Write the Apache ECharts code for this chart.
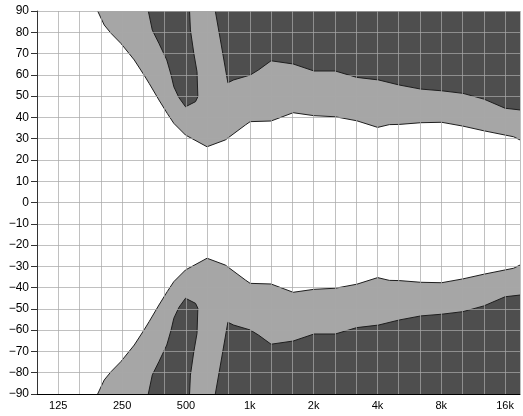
<!DOCTYPE html>
<html>
<head>
<meta charset="utf-8">
<script src="https://cdn.jsdelivr.net/npm/echarts@6/dist/echarts.min.js"></script>
<style>html,body{margin:0;padding:0;background:#fff;}#c{width:523px;height:416px;}</style>
</head>
<body>
<div id="c"></div>
<script>
// x positions are third-octave band indices (0 = 100 Hz, 1 = 125 Hz, ...)
const tickBands = [1, 4, 7, 10, 13, 16, 19, 22];
const tickLabels = ['125', '250', '500', '1k', '2k', '4k', '8k', '16k'];

// upper half boundaries (lower half is the mirror image)
const lightEdge = [[2.85,90],[3.16,83.4],[3.48,79.5],[3.94,74.8],[4.57,67.0],[5.03,59.9],[5.27,56.0],[5.73,48.2],[6.12,41.9],[6.43,37.2],[6.98,31.7],[7.99,26.2],[8.85,29.4],[9.79,36.4],[10.02,38.0],[11.0,38.3],[12.04,42.2],[13.02,40.8],[14.02,40.3],[15.03,38.4],[16.01,35.3],[16.56,36.6],[17.03,36.7],[18.04,37.5],[19.02,37.7],[20.02,35.9],[21.0,33.7],[22.0,31.7],[22.4,30.9],[22.7,29.4]];
const blobEdge = [[5.23,90],[5.42,81.0],[5.73,74.8],[6.1,67.0],[6.3,60.0],[6.43,54.4],[6.67,49.3],[6.98,45.0],[7.45,47.4],[7.56,49.7],[7.52,61.5],[7.37,70.1],[7.21,81.1],[7.17,90]];
const darkEdge = [[8.38,90],[8.62,76.4],[8.97,56.3],[9.24,57.6],[10.02,59.9],[10.41,62.3],[11.0,66.6],[12.04,65.1],[13.02,61.8],[14.02,61.8],[15.03,58.8],[16.05,57.6],[17.03,55.2],[18.04,53.3],[19.02,52.5],[20.02,51.3],[21.0,48.6],[22.0,44.3],[22.7,43.5]];

const LIGHT = '#a6a6a6', DARK = '#4e4e4e', EDGE = '#1e1e1e';
const mirror = arr => arr.map(p => [p[0], -p[1]]);

function area(data, color, origin) {
  return {
    type: 'line', data: data, showSymbol: false, symbol: 'none', silent: true,
    lineStyle: { color: EDGE, width: 1 },
    areaStyle: { color: color, opacity: 1, origin: origin },
    z: 2
  };
}

const chart = echarts.init(document.getElementById('c'), null, { renderer: 'canvas' });
chart.setOption({
  animation: false,
  backgroundColor: '#fff',
  grid: { left: 37, right: 0, top: 11, bottom: 22 },
  xAxis: {
    type: 'value', min: 0, max: 22.7, interval: 1, z: 5,
    axisLine: { show: true, onZero: false, lineStyle: { color: '#000', width: 1 } },
    axisTick: { show: false },
    splitLine: { show: true, lineStyle: { color: 'rgba(168,168,168,0.72)', width: 1 } },
    axisLabel: {
      margin: 6, color: '#000', fontFamily: 'Liberation Sans', fontSize: 11,
      showMinLabel: true, showMaxLabel: true,
      formatter: v => { const i = tickBands.indexOf(Math.round(v * 1000) / 1000); return i >= 0 ? tickLabels[i] : ''; }
    }
  },
  yAxis: {
    type: 'value', min: -90, max: 90, interval: 10, z: 5,
    axisLine: { show: true, onZero: false, lineStyle: { color: '#333', width: 1 } },
    axisTick: { show: true, length: 6, lineStyle: { color: '#333' } },
    splitLine: { show: true, lineStyle: { color: 'rgba(168,168,168,0.72)', width: 1 } },
    axisLabel: {
      margin: 8, color: '#000', fontFamily: 'Liberation Sans', fontSize: 12,
      formatter: v => v < 0 ? '\u2212' + (-v) : String(v)
    }
  },
  series: [
    area(lightEdge, LIGHT, 'end'),
    area(mirror(lightEdge), LIGHT, 'start'),
    area(blobEdge, DARK, 'end'),
    area(mirror(blobEdge), DARK, 'start'),
    area(darkEdge, DARK, 'end'),
    area(mirror(darkEdge), DARK, 'start')
  ]
});
</script>
</body>
</html>
